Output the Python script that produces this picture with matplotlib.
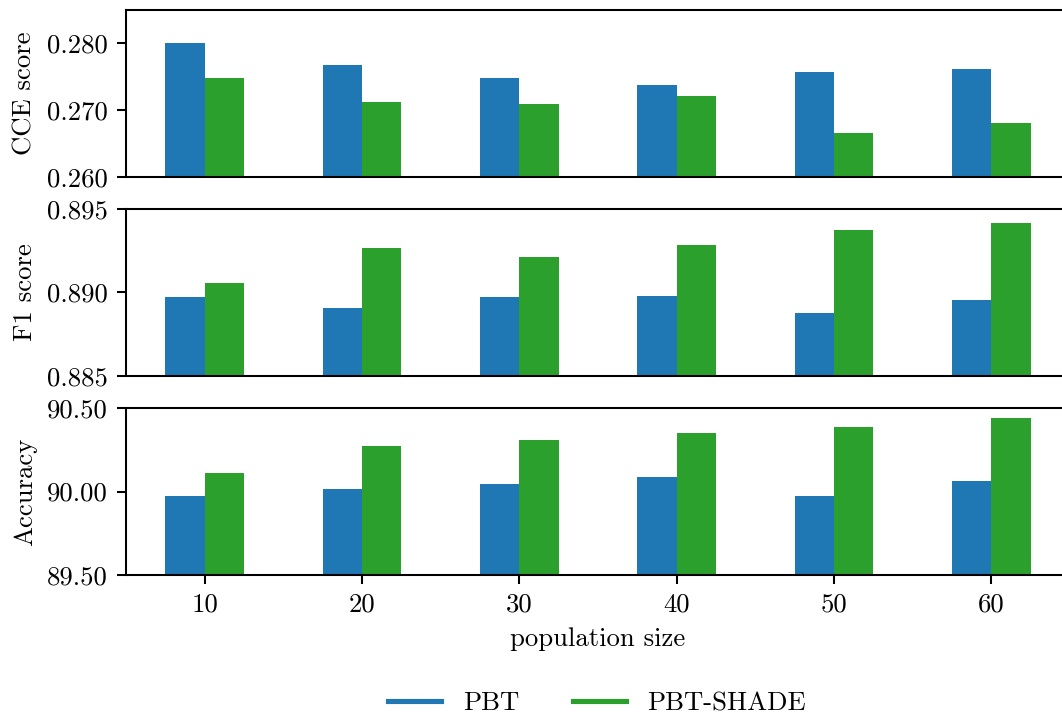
import matplotlib
import matplotlib.pyplot as plt
import numpy as np
from matplotlib.lines import Line2D
from matplotlib.ticker import FormatStrFormatter

matplotlib.use("Agg")

plt.rcParams["font.family"] = "serif"
plt.rcParams["font.serif"] = ["cmr10", "DejaVu Serif"]
plt.rcParams["mathtext.fontset"] = "cm"
plt.rcParams["axes.formatter.use_mathtext"] = True
plt.rcParams["font.size"] = 10.4

population_sizes = [10, 20, 30, 40, 50, 60]

cce_pbt = [0.2800, 0.2768, 0.2748, 0.2738, 0.2757, 0.2761]
cce_shade = [0.2748, 0.2712, 0.2709, 0.2721, 0.2666, 0.2681]

f1_pbt = [0.88973, 0.88910, 0.88976, 0.88982, 0.88880, 0.88958]
f1_shade = [0.89057, 0.89265, 0.89211, 0.89283, 0.89373, 0.89415]

acc_pbt = [89.973, 90.012, 90.042, 90.084, 89.973, 90.063]
acc_shade = [90.111, 90.271, 90.307, 90.349, 90.386, 90.440]

panels = [
    ("CCE score", cce_pbt, cce_shade, (0.260, 0.285), [0.260, 0.270, 0.280], "%.3f"),
    ("F1 score", f1_pbt, f1_shade, (0.885, 0.895), [0.885, 0.890, 0.895], "%.3f"),
    ("Accuracy", acc_pbt, acc_shade, (89.5, 90.5), [89.5, 90.0, 90.5], "%.2f"),
]

DPI = 185
fig = plt.figure(figsize=(1062 / DPI, 718 / DPI), dpi=DPI)

left, right = 126 / 1062, 1070 / 1062
tops = [10, 209, 408]
height_px = 167

x = np.arange(len(population_sizes))
width = 0.25

axes = []
for i, (label, pbt, shade, ylim, yticks, fmt) in enumerate(panels):
    top = tops[i]
    ax = fig.add_axes([left, 1 - (top + height_px) / 718, right - left, height_px / 718])
    ax.bar(x - width / 2, pbt, width, color="tab:blue")
    ax.bar(x + width / 2, shade, width, color="tab:green")
    ax.set_ylim(*ylim)
    ax.set_yticks(yticks)
    ax.yaxis.set_major_formatter(FormatStrFormatter(fmt))
    ax.set_xlim(-0.5, len(x) - 0.5)
    ax.set_ylabel(label)
    if i < 2:
        ax.tick_params(axis="x", bottom=False, labelbottom=False)
    else:
        ax.set_xticks(x)
        ax.set_xticklabels([str(p) for p in population_sizes])
        ax.set_xlabel("population size")
    axes.append(ax)

fig.align_ylabels(axes)

handles = [
    Line2D([], [], color="tab:blue", lw=2),
    Line2D([], [], color="tab:green", lw=2),
]
fig.legend(handles, ["PBT", "PBT-SHADE"], loc="lower center", ncol=2,
           frameon=False, bbox_to_anchor=(597 / 1062, -0.03))

fig.savefig("out.png", dpi=DPI)
